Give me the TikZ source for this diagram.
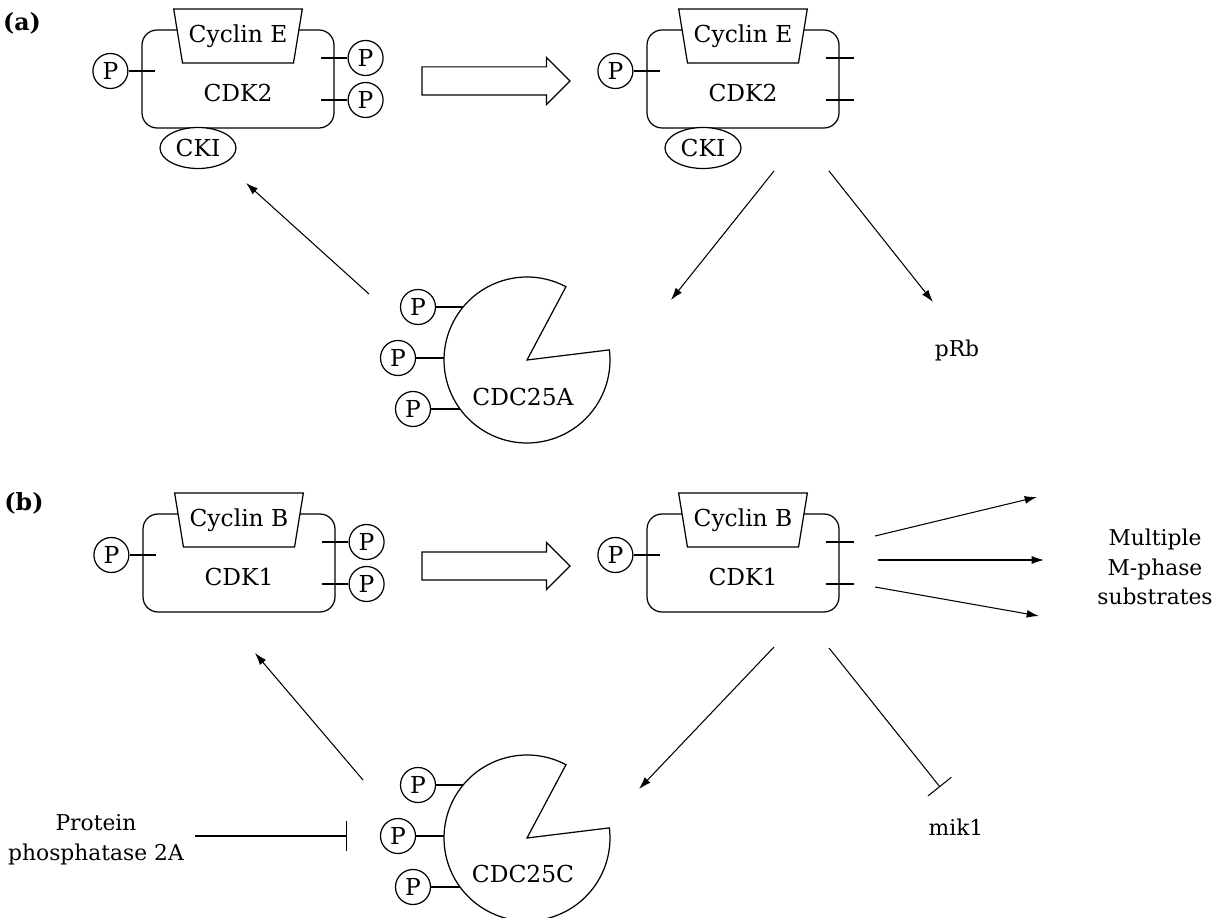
\documentclass[tikz,border=0pt]{standalone}
\usepackage{fontspec}
\setmainfont{DejaVu Serif}
\usetikzlibrary{arrows.meta,positioning,shapes.geometric,shapes.arrows}
\newcommand{\inlbl}{\fontsize{13.3}{15}\selectfont}
\newcommand{\outlbl}{\fontsize{12.4}{17}\selectfont}
\tikzset{
  kinase/.style={draw,rounded corners=0.3cm,minimum width=3.84cm,
    minimum height=1.96cm,line width=0.7pt},
  cyclin/.style={draw,fill=white,trapezium,shape border rotate=180,
    trapezium left angle=73,trapezium right angle=73,trapezium stretches=true,
    minimum width=2.58cm,minimum height=1.08cm,inner sep=1pt,font=\inlbl,
    line width=0.7pt},
  phos/.style={draw,circle,fill=white,minimum size=0.7cm,inner sep=0pt,
    font=\inlbl,line width=0.7pt},
  cki/.style={draw,ellipse,fill=white,minimum width=1.52cm,
    minimum height=0.82cm,inner sep=0pt,font=\inlbl,line width=0.7pt},
  lbl/.style={inner sep=0pt,font=\inlbl},
  outlbl/.style={inner sep=0pt,align=center,font=\outlbl},
  panel/.style={inner sep=0pt,font=\bfseries\fontsize{13.5}{15}\selectfont},
  bigarrow/.style={draw,single arrow,single arrow head extend=0.19cm,
    single arrow tip angle=90,minimum height=2.96cm,inner sep=0.27cm,
    line width=0.7pt},
  enzyme/.style={draw,fill=white,line width=0.7pt},
  stub/.style={line width=0.7pt},
  act/.style={-{Latex[length=7pt,width=4.5pt]},line width=0.6pt},
  inh/.style={-{Bar[width=17pt]},line width=0.6pt},
}

\begin{document}
\begin{tikzpicture}[x=0.02cm,y=-0.02cm]
\path[use as bounding box,fill=white] (0,0) rectangle (1224,918);
% (a) Cyclin E / CDK2
\node[panel] (pa) at (22,23) {(a)};
\node[kinase] (cdkAl) at (238,79) {};
\node[cyclin] (cycAl) at ([shift={(0,-43)}]cdkAl.center) {Cyclin E};
\node[lbl] (nmAl) at ([shift={(0,14)}]cdkAl.center) {CDK2};
\node[phos] (pAl1) at ([shift={(-31,-8)}]cdkAl.west) {P};
\draw[stub] (pAl1) -- ([shift={(14,-8)}]cdkAl.west);
\node[phos] (pAl2) at ([shift={(31,-21)}]cdkAl.east) {P};
\draw[stub] (pAl2) -- ([shift={(-14,-21)}]cdkAl.east);
\node[phos] (pAl3) at ([shift={(31,21)}]cdkAl.east) {P};
\draw[stub] (pAl3) -- ([shift={(-14,21)}]cdkAl.east);
\node[cki] (ckiAl) at ([shift={(-40,69)}]cdkAl.center) {CKI};

\node[bigarrow] (stepA) at (489,81) {};

\node[kinase] (cdkAr) at (743,79) {};
\node[cyclin] (cycAr) at ([shift={(0,-43)}]cdkAr.center) {Cyclin E};
\node[lbl] (nmAr) at ([shift={(0,14)}]cdkAr.center) {CDK2};
\node[phos] (pAr1) at ([shift={(-31,-8)}]cdkAr.west) {P};
\draw[stub] (pAr1) -- ([shift={(14,-8)}]cdkAr.west);
\draw[stub] ([shift={(-14,-21)}]cdkAr.east) -- ([shift={(14,-21)}]cdkAr.east);
\draw[stub] ([shift={(-14,21)}]cdkAr.east) -- ([shift={(14,21)}]cdkAr.east);
\node[cki] (ckiAr) at ([shift={(-40,69)}]cdkAr.center) {CKI};

% CDC25A
\coordinate (cA) at (527,360);
\node[phos] (pA1) at ([shift={(-109,-53)}]cA) {P};
\node[phos] (pA2) at ([shift={(-129,-2)}]cA) {P};
\node[phos] (pA3) at ([shift={(-114,49)}]cA) {P};
\draw[stub] (pA1) -- ++(50,0); \draw[stub] (pA2) -- ++(50,0);
\draw[stub] (pA3) -- ++(50,0);
\draw[enzyme] (cA) -- ++(62:1.66cm) arc[start angle=62,end angle=367,radius=1.66cm] -- cycle;
\node[lbl] (nA) at ([shift={(-4,37)}]cA) {CDC25A};
\node[outlbl] (pRb) at (957,350) {pRb};

\coordinate (aT1) at (369,294); \coordinate (aH1) at (246,183);
\coordinate (aT2) at (774,171); \coordinate (aH2) at (671,300);
\coordinate (aT3) at (829,171); \coordinate (aH3) at (933,302);
\draw[act] (aT1) -- (aH1);
\draw[act] (aT2) -- (aH2);
\draw[act] (aT3) -- (aH3);

% (b) Cyclin B / CDK1
\node[panel] (pb) at (24,503) {(b)};
\node[kinase] (cdkBl) at (239,563) {};
\node[cyclin] (cycBl) at ([shift={(0,-43)}]cdkBl.center) {Cyclin B};
\node[lbl] (nmBl) at ([shift={(0,14)}]cdkBl.center) {CDK1};
\node[phos] (pBl1) at ([shift={(-31,-8)}]cdkBl.west) {P};
\draw[stub] (pBl1) -- ([shift={(14,-8)}]cdkBl.west);
\node[phos] (pBl2) at ([shift={(31,-21)}]cdkBl.east) {P};
\draw[stub] (pBl2) -- ([shift={(-14,-21)}]cdkBl.east);
\node[phos] (pBl3) at ([shift={(31,21)}]cdkBl.east) {P};
\draw[stub] (pBl3) -- ([shift={(-14,21)}]cdkBl.east);

\node[bigarrow] (stepB) at (489,566) {};

\node[kinase] (cdkBr) at (743,563) {};
\node[cyclin] (cycBr) at ([shift={(0,-43)}]cdkBr.center) {Cyclin B};
\node[lbl] (nmBr) at ([shift={(0,14)}]cdkBr.center) {CDK1};
\node[phos] (pBr1) at ([shift={(-31,-8)}]cdkBr.west) {P};
\draw[stub] (pBr1) -- ([shift={(14,-8)}]cdkBr.west);
\draw[stub] ([shift={(-14,-21)}]cdkBr.east) -- ([shift={(14,-21)}]cdkBr.east);
\draw[stub] ([shift={(-14,21)}]cdkBr.east) -- ([shift={(14,21)}]cdkBr.east);

% CDC25C
\coordinate (cB) at (527,838);
\node[phos] (pB1) at ([shift={(-109,-53)}]cB) {P};
\node[phos] (pB2) at ([shift={(-129,-2)}]cB) {P};
\node[phos] (pB3) at ([shift={(-114,49)}]cB) {P};
\draw[stub] (pB1) -- ++(50,0); \draw[stub] (pB2) -- ++(50,0);
\draw[stub] (pB3) -- ++(50,0);
\draw[enzyme] (cB) -- ++(62:1.66cm) arc[start angle=62,end angle=367,radius=1.66cm] -- cycle;
\node[lbl] (nB) at ([shift={(-4,36)}]cB) {CDC25C};

\node[outlbl] (subs) at (1155,567) {Multiple\\M-phase\\substrates};
\node[outlbl] (mik) at (956,827) {mik1};
\node[outlbl] (pp2a) at (96,840) {Protein\\phosphatase 2A};

\coordinate (bT1) at (363,780); \coordinate (bH1) at (255,653);
\coordinate (bT2) at (774,647); \coordinate (bH2) at (639,789);
\coordinate (bT3) at (829,648); \coordinate (bH3) at (940,787);
\coordinate (bT4) at (195,836); \coordinate (bH4) at (347,836);
\draw[act] (bT1) -- (bH1);
\draw[act] (bT2) -- (bH2);
\draw[inh] (bT3) -- (bH3);
\draw[inh] (bT4) -- (bH4);
\coordinate (sT1) at (875,536); \coordinate (sH1) at (1037,497);
\coordinate (sT2) at (878,560); \coordinate (sH2) at (1044,560);
\coordinate (sT3) at (875,587); \coordinate (sH3) at (1039,616);
\draw[act] (sT1) -- (sH1);
\draw[act] (sT2) -- (sH2);
\draw[act] (sT3) -- (sH3);
\end{tikzpicture}
\end{document}
